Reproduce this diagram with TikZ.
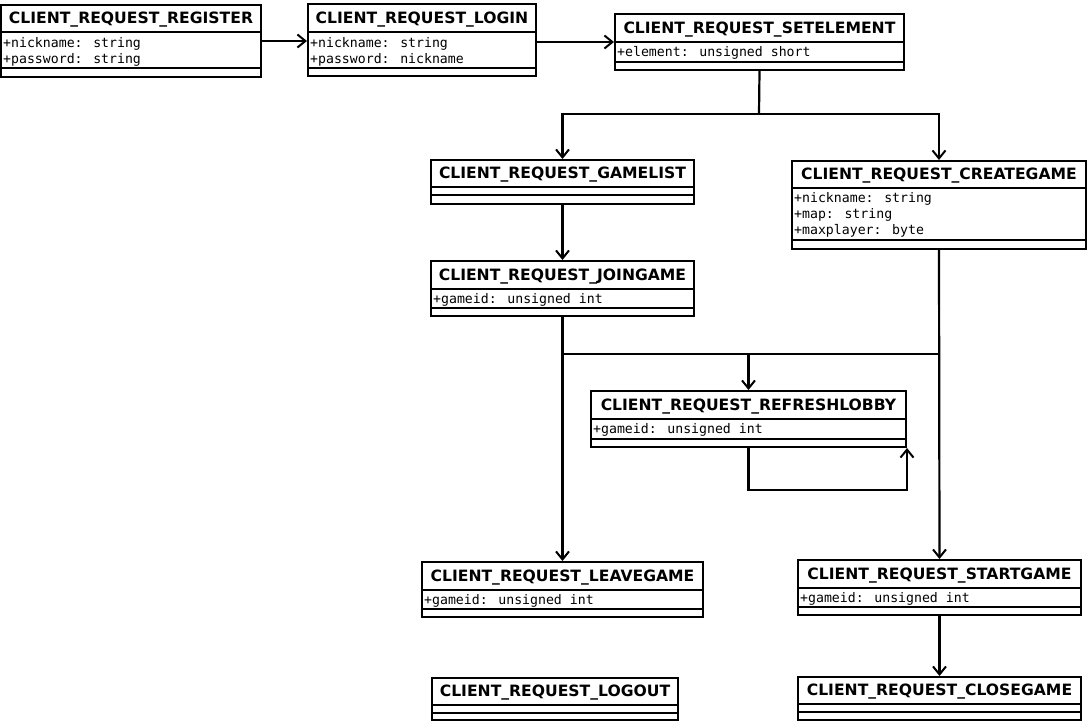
\documentclass[tikz,border=0pt]{standalone}
\usepackage{fontspec}
\usetikzlibrary{arrows.meta,fit}
\newfontfamily\titlefont{DejaVu Sans}
\newfontfamily\attrfont{DejaVu Sans Mono}
\tikzset{
  clsbox/.style={draw, line width=2pt, inner sep=0pt, fill=white},
  clsline/.style={line width=2pt},
  clstitle/.style={inner sep=0pt, font=\titlefont\bfseries\fontsize{15.6}{18}\selectfont},
  clsattr/.style={inner sep=0pt, anchor=north west, align=left, font=\attrfont\fontsize{13.2}{16}\selectfont},
  conn/.style={line width=2.2pt},
  arr/.style={line width=2.2pt, -{Straight Barb[length=8pt,width=13pt,line width=2pt]}}
}
\newcommand\umlcls[8]{%
  \coordinate (#1-nw) at (#2,#3);
  \coordinate (#1-se) at (#4,#5);
  \node[clsbox, fit=(#1-nw)(#1-se)] (#1) {};
  \draw[clsline] (#2,#6) -- (#4,#6) (#2,#7) -- (#4,#7);
  \node[clstitle] (#1-t) at ({(#2+#4)/2},{(#3+#6)/2+1.5}) {#8};
}
\begin{document}
\begin{tikzpicture}[x=1pt,y=-1pt]
\useasboundingbox (0,0) rectangle (1087,723);

\umlcls{reg}{1}{5}{261}{77}{32}{68}{CLIENT\_REQUEST\_REGISTER}
\node[clsattr] (reg-a) at (3,37) {+nickname: string\\+password: string};

\umlcls{login}{308}{4}{536}{76}{32}{68}{CLIENT\_REQUEST\_LOGIN}
\node[clsattr] (login-a) at (310,37) {+nickname: string\\+password: nickname};

\umlcls{setel}{615}{14}{904}{70}{42}{62}{CLIENT\_REQUEST\_SETELEMENT}
\node[clsattr] (setel-a) at (617,46.5) {+element: unsigned short};

\umlcls{gl}{431}{160}{694}{204}{187}{195}{CLIENT\_REQUEST\_GAMELIST}

\umlcls{cg}{792}{161}{1086}{249}{188}{240}{CLIENT\_REQUEST\_CREATEGAME}
\node[clsattr] (cg-a) at (794,192.5) {+nickname: string\\+map: string\\+maxplayer: byte};

\umlcls{jg}{431}{261}{694}{316}{289}{308}{CLIENT\_REQUEST\_JOINGAME}
\node[clsattr] (jg-a) at (433,293.5) {+gameid: unsigned int};

\umlcls{rl}{591}{391}{906}{447}{419}{439}{CLIENT\_REQUEST\_REFRESHLOBBY}
\node[clsattr] (rl-a) at (593,423.5) {+gameid: unsigned int};

\umlcls{lv}{422}{562}{703}{617}{590}{609}{CLIENT\_REQUEST\_LEAVEGAME}
\node[clsattr] (lv-a) at (424,594.5) {+gameid: unsigned int};

\umlcls{sg}{798}{560}{1081}{615}{588}{607}{CLIENT\_REQUEST\_STARTGAME}
\node[clsattr] (sg-a) at (800,592.5) {+gameid: unsigned int};

\umlcls{lo}{432}{678}{678}{720}{705}{713}{CLIENT\_REQUEST\_LOGOUT}

\umlcls{cl}{798}{677}{1081}{720}{704}{712}{CLIENT\_REQUEST\_CLOSEGAME}

% connectors
\draw[arr] (reg.east) -- (login.west |- reg.east);
\draw[arr] (login.east |- setel.west) -- (setel.west);

\coordinate (j1) at (759,114);
\draw[conn] (setel.south) -- (j1);
\draw[arr] (j1) -| (gl.north);
\draw[arr] (j1) -| (cg.north);

\draw[arr] (gl.south) -- (jg.north);
\draw[arr] (jg.south) -- (lv.north);
\draw[arr] (cg.south) -- (sg.north);
\draw[arr] (sg.south) -- (cl.north);

\coordinate (j2a) at (jg.south |- 0,354);
\coordinate (j2b) at (cg.south |- 0,354);
\draw[conn] (j2a) -- (j2b);
\draw[arr] (rl.north |- j2a) -- (rl.north);

\coordinate (loop) at (rl.south |- 0,490);
\draw[arr] (rl.south) -- (loop) -| (rl.south east);
\end{tikzpicture}
\end{document}
